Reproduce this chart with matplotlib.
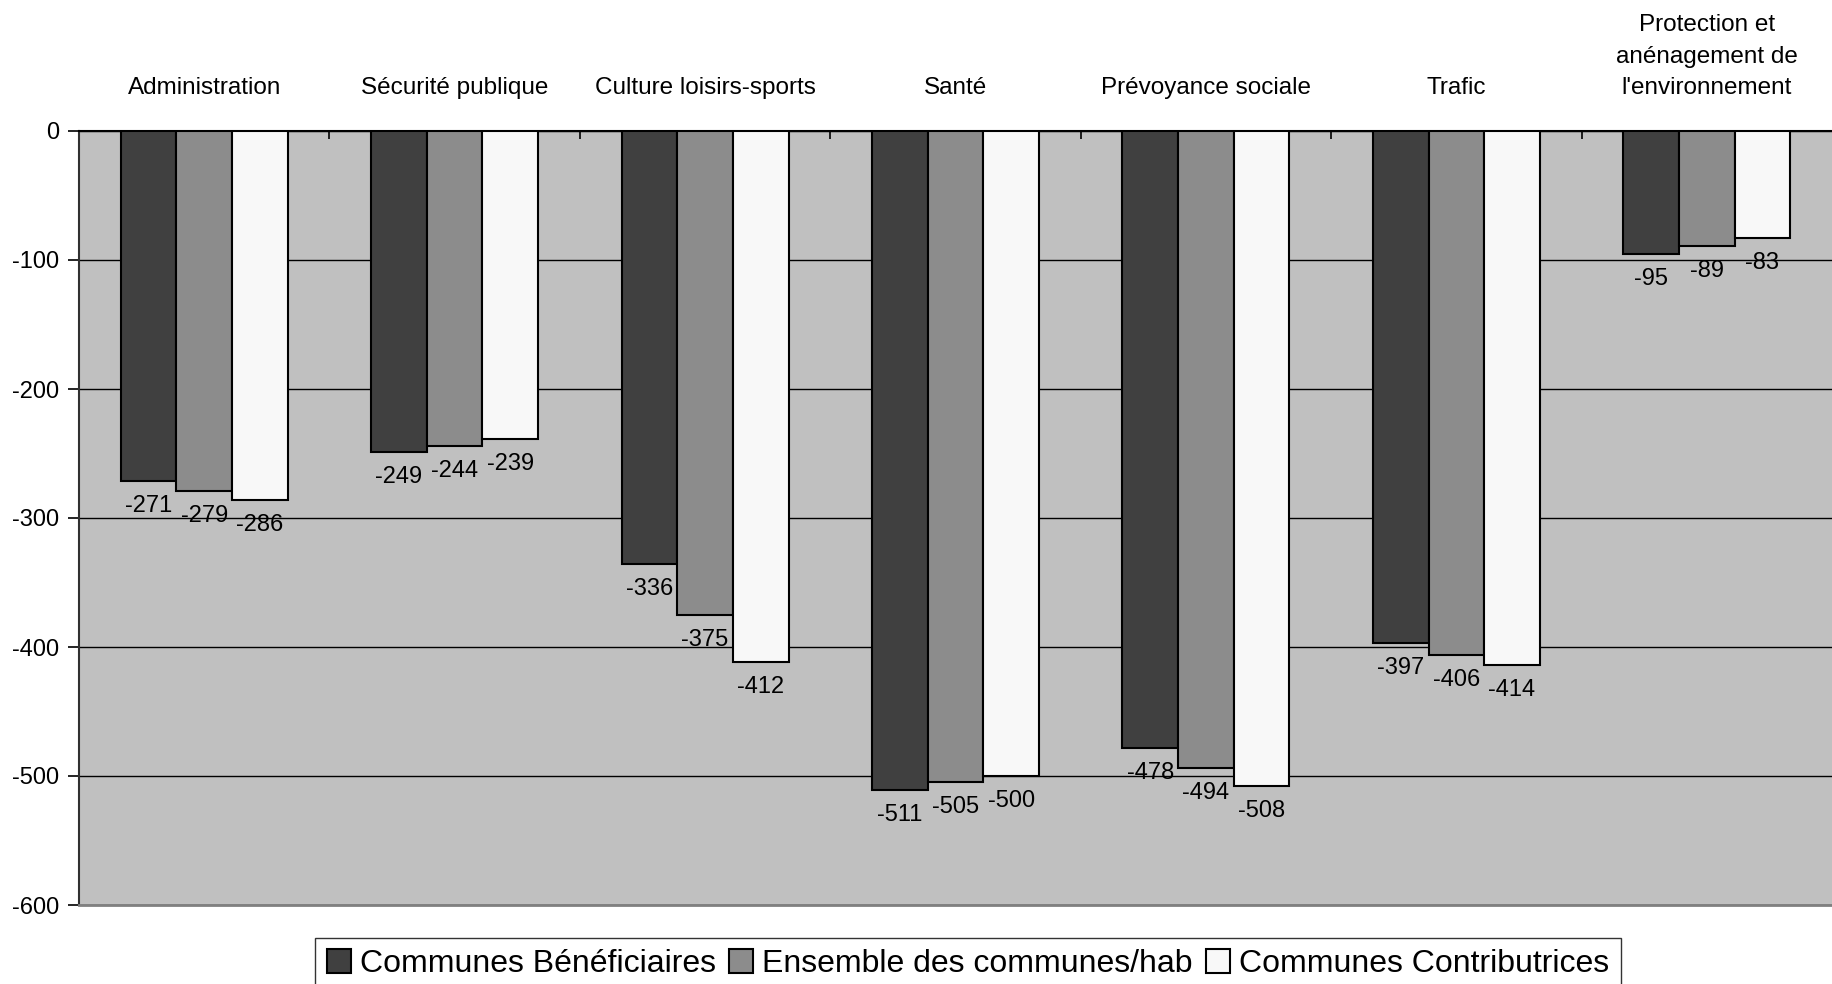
import matplotlib.pyplot as plt
from matplotlib.ticker import FixedLocator
import numpy as np

plt.rcParams['font.family'] = ['Liberation Sans', 'DejaVu Sans']

categories = ['Administration', 'Sécurité publique', 'Culture loisirs-sports', 'Santé',
              'Prévoyance sociale', 'Trafic',
              "Protection et\nanénagement de\nl'environnement"]
series_names = ['Communes Bénéficiaires', 'Ensemble des communes/hab', 'Communes Contributrices']
beneficiaires = [-271, -249, -336, -511, -478, -397, -95]
ensemble = [-279, -244, -375, -505, -494, -406, -89]
contributrices = [-286, -239, -412, -500, -508, -414, -83]
y_ticks = [0, -100, -200, -300, -400, -500, -600]

colors = ['#404040', '#8c8c8c', '#f8f8f8']

fig = plt.figure(figsize=(18.32, 9.84), dpi=100)
ax = fig.add_axes([79 / 1832, 1 - 905 / 984, 1 - 79 / 1832, (905 - 131) / 984])
ax.set_facecolor('#c0c0c0')

x = np.arange(len(categories))
bw = 1 / 4.5  # gap width 150%
for i, (vals, name) in enumerate(zip([beneficiaires, ensemble, contributrices], series_names)):
    pos = x + (i - 1) * bw
    bars = ax.bar(pos, vals, width=bw, color=colors[i], edgecolor='black', linewidth=1.5,
                  label=name, zorder=3)
    for b, v in zip(bars, vals):
        ax.annotate(str(v), (b.get_x() + b.get_width() / 2, v), xytext=(0, -18),
                    textcoords='offset points', ha='center', va='center', fontsize=17, zorder=4)

ax.set_xlim(-0.5, len(categories) - 0.5)
ax.set_ylim(-600, 0)
ax.set_yticks(y_ticks)
ax.set_yticklabels([str(t) for t in y_ticks])
ax.yaxis.grid(True, color='black', linewidth=1, zorder=1)
ax.tick_params(axis='y', direction='out', length=8, width=1.2, labelsize=17, pad=6)

# category labels on top, tick marks between categories
ax.xaxis.tick_top()
ax.xaxis.set_major_locator(FixedLocator(x[:-1] + 0.5))
ax.xaxis.set_minor_locator(FixedLocator(x))
ax.set_xticklabels([], minor=False)
ax.set_xticklabels(categories, minor=True, fontsize=17.5, linespacing=1.55)
ax.tick_params(axis='x', which='major', direction='in', length=6, width=1.2, top=True, bottom=False)
ax.tick_params(axis='x', which='minor', length=0, pad=23, top=True, bottom=False)

ax.spines['right'].set_visible(False)
ax.spines['top'].set_color('black')
ax.spines['top'].set_linewidth(1.5)
ax.spines['left'].set_color('#303030')
ax.spines['left'].set_linewidth(1.5)
ax.spines['bottom'].set_color('#808080')
ax.spines['bottom'].set_linewidth(2)

leg = fig.legend(loc='upper center', bbox_to_anchor=(968 / 1832, 1 - 938 / 984), ncol=3,
                 fontsize=23, frameon=True, fancybox=False, edgecolor='black',
                 handlelength=0.75, handleheight=0.75, handletextpad=0.3, columnspacing=0.4,
                 borderpad=0.35, borderaxespad=0)
leg.get_frame().set_linewidth(1)

fig.savefig('out.png', dpi=100)
